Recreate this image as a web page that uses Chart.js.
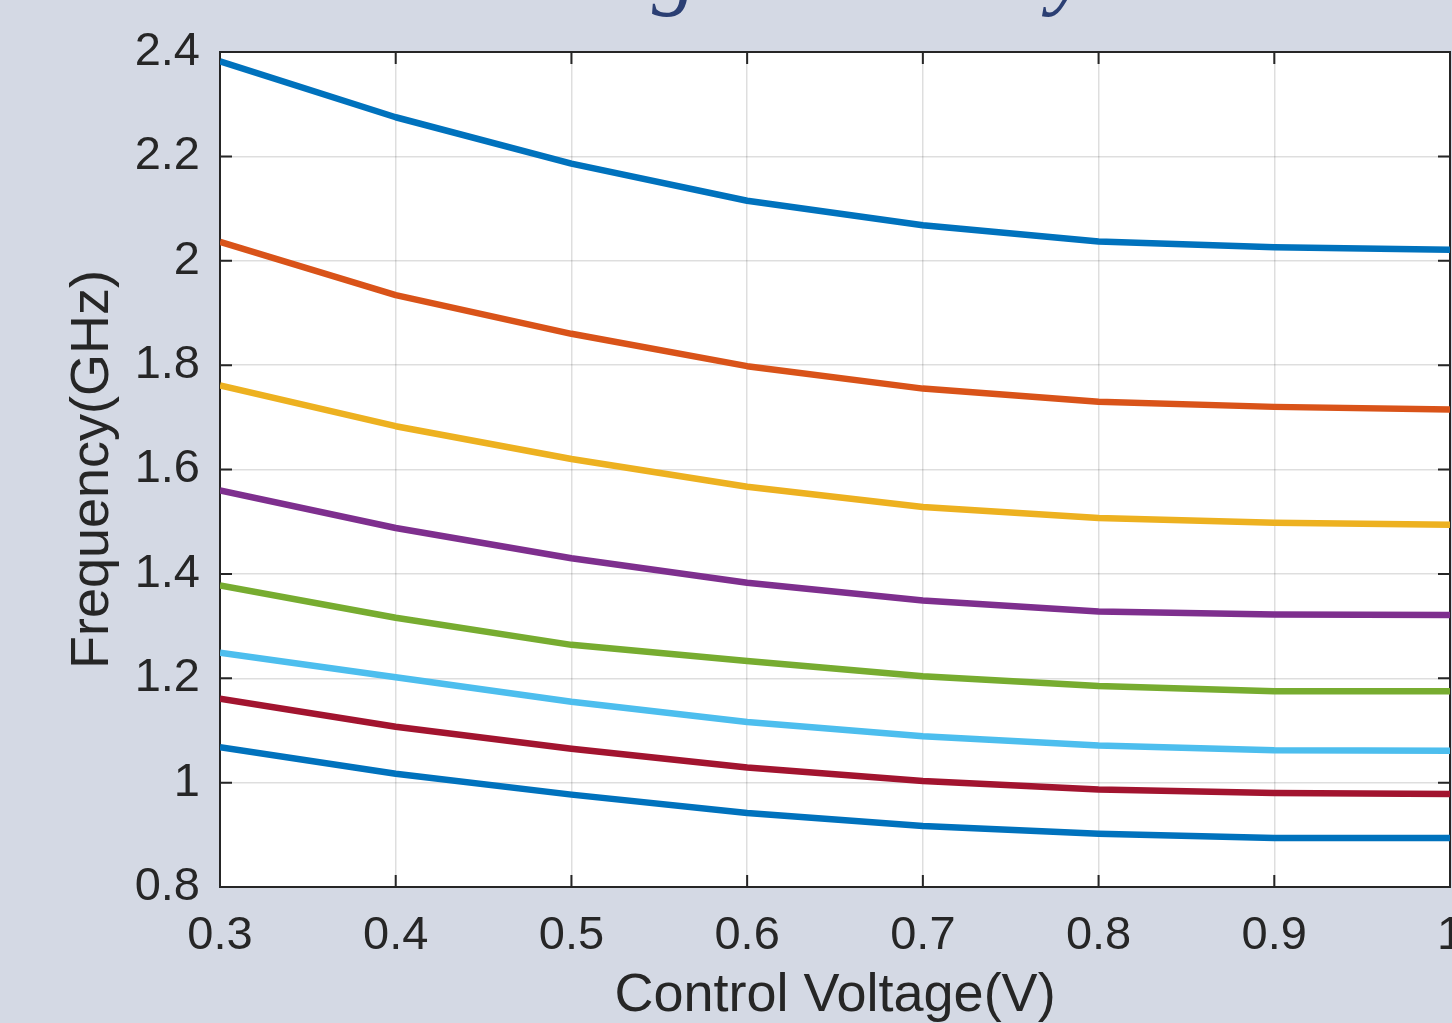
<!DOCTYPE html>
<html>
<head>
<meta charset="utf-8">
<style>
html,body{margin:0;padding:0;background:#D4D9E4;overflow:hidden;}
#wrap{position:relative;width:1452px;height:1023px;}
canvas{display:block;}
</style>
<script src="https://cdn.jsdelivr.net/npm/chart.js@4/dist/chart.umd.min.js"></script>
</head>
<body>
<div id="wrap"><canvas id="c" width="1452" height="1023"></canvas></div>
<script>
// ---- data ----
const voltages = [0.3, 0.4, 0.5, 0.6, 0.7, 0.8, 0.9, 1.0];
const xTickValues = [0.3, 0.4, 0.5, 0.6, 0.7, 0.8, 0.9, 1];
const yTickValues = [0.8, 1, 1.2, 1.4, 1.6, 1.8, 2, 2.2, 2.4];

const freqCurve1 = [2.382, 2.275, 2.186, 2.115, 2.068, 2.037, 2.026, 2.021];
const freqCurve2 = [2.036, 1.934, 1.860, 1.798, 1.755, 1.730, 1.720, 1.715];
const freqCurve3 = [1.761, 1.683, 1.620, 1.567, 1.528, 1.507, 1.498, 1.494];
const freqCurve4 = [1.560, 1.488, 1.430, 1.383, 1.349, 1.328, 1.322, 1.321];
const freqCurve5 = [1.378, 1.316, 1.264, 1.233, 1.204, 1.185, 1.175, 1.175];
const freqCurve6 = [1.249, 1.202, 1.155, 1.116, 1.089, 1.071, 1.062, 1.061];
const freqCurve7 = [1.161, 1.107, 1.065, 1.029, 1.003, 0.987, 0.980, 0.978];
const freqCurve8 = [1.068, 1.017, 0.977, 0.942, 0.917, 0.902, 0.894, 0.894];

const curveNames = ['Curve 1','Curve 2','Curve 3','Curve 4','Curve 5','Curve 6','Curve 7','Curve 8'];
const curveColors = ['#0072BD','#D95319','#EDB120','#7E2F8E','#77AC30','#4DBEEE','#A2142F','#0072BD'];

const xAxisTitle = 'Control Voltage(V)';
const yAxisTitle = 'Frequency(GHz)';
const figureTitle = 'Tuning Sensitivity';

// ---- chart ----
const allCurves = [freqCurve1, freqCurve2, freqCurve3, freqCurve4, freqCurve5, freqCurve6, freqCurve7, freqCurve8];
const datasets = allCurves.map((vals, i) => ({
  label: curveNames[i],
  data: voltages.map((v, j) => ({x: v, y: vals[j]})),
  borderColor: curveColors[i],
  backgroundColor: curveColors[i],
  borderWidth: 6.5,
  pointRadius: 0,
  tension: 0,
  fill: false,
  borderJoinStyle: 'round',
  borderCapStyle: 'butt'
}));

const AXIS_COLOR = '#262626';
const FONT = '"Liberation Sans", Arial, Helvetica, sans-serif';

const matlabAxes = {
  id: 'matlabAxes',
  beforeDraw(chart) {
    const {ctx, chartArea: a, width, height} = chart;
    ctx.save();
    ctx.fillStyle = '#D4D9E4';
    ctx.fillRect(0, 0, width, height);
    ctx.fillStyle = '#FFFFFF';
    ctx.fillRect(a.left, a.top, a.right - a.left, a.bottom - a.top);
    ctx.restore();
  },
  beforeDatasetsDraw(chart) {
    const {ctx, chartArea: a, scales} = chart;
    const xs = scales.x, ys = scales.y;
    const L = 12;
    ctx.save();
    ctx.strokeStyle = AXIS_COLOR;
    ctx.lineWidth = 2;
    ctx.beginPath();
    xs.ticks.forEach(t => {
      const px = xs.getPixelForValue(t.value);
      ctx.moveTo(px, a.bottom); ctx.lineTo(px, a.bottom - L);
      ctx.moveTo(px, a.top); ctx.lineTo(px, a.top + L);
    });
    ys.ticks.forEach(t => {
      const py = ys.getPixelForValue(t.value);
      ctx.moveTo(a.left, py); ctx.lineTo(a.left + L, py);
      ctx.moveTo(a.right, py); ctx.lineTo(a.right - L, py);
    });
    ctx.stroke();
    ctx.beginPath();
    ctx.rect(a.left, a.top, a.right - a.left, a.bottom - a.top);
    ctx.stroke();
    ctx.restore();
  },
  afterDraw(chart) {
    const ctx = chart.ctx;
    ctx.save();
    const size = 90;
    ctx.font = 'italic ' + size + 'px "Liberation Serif", "Times New Roman", serif';
    const gi = figureTitle.indexOf('g');
    const prefix = ctx.measureText(figureTitle.slice(0, gi)).width;
    ctx.fillStyle = '#2B3F73';
    ctx.textAlign = 'left';
    ctx.textBaseline = 'alphabetic';
    ctx.fillText(figureTitle, 652 - prefix, -2);
    ctx.restore();
  }
};

new Chart(document.getElementById('c'), {
  type: 'line',
  data: { datasets },
  plugins: [matlabAxes],
  options: {
    responsive: false,
    animation: false,
    devicePixelRatio: 1,
    layout: { padding: { left: 0, top: 52, right: 2, bottom: 0 } },
    plugins: { legend: { display: false }, tooltip: { enabled: false }, title: { display: false } },
    scales: {
      x: {
        type: 'linear',
        min: 0.3, max: 1.0,
        afterBuildTicks: s => { s.ticks = xTickValues.map(v => ({value: v})); },
        afterFit: s => { s.height = 136; s.paddingLeft = 0; s.paddingRight = 0; },
        ticks: {
          autoSkip: false, maxRotation: 0, minRotation: 0,
          padding: 21, color: AXIS_COLOR,
          font: { family: FONT, size: 47 },
          callback: v => String(v)
        },
        grid: { color: 'rgba(0,0,0,0.13)', lineWidth: 1.5, drawTicks: false, tickLength: 0 },
        border: { display: true, color: AXIS_COLOR, width: 2 },
        title: { display: true, text: xAxisTitle, color: AXIS_COLOR,
                 font: { family: FONT, size: 54, lineHeight: 1 }, padding: { top: 0, bottom: 0 } }
      },
      y: {
        type: 'linear',
        min: 0.8, max: 2.4,
        afterBuildTicks: s => { s.ticks = yTickValues.map(v => ({value: v})); },
        afterFit: s => { s.width = 220; s.paddingTop = 0; s.paddingBottom = 0; },
        ticks: {
          autoSkip: false, padding: 20, color: AXIS_COLOR,
          font: { family: FONT, size: 47 },
          callback: v => String(v)
        },
        grid: { color: 'rgba(0,0,0,0.13)', lineWidth: 1.5, drawTicks: false, tickLength: 0 },
        border: { display: true, color: AXIS_COLOR, width: 2 },
        title: { display: true, text: yAxisTitle, color: AXIS_COLOR,
                 font: { family: FONT, size: 54, lineHeight: 1 }, padding: { top: 66, bottom: 0 } }
      }
    }
  }
});
</script>
</body>
</html>
